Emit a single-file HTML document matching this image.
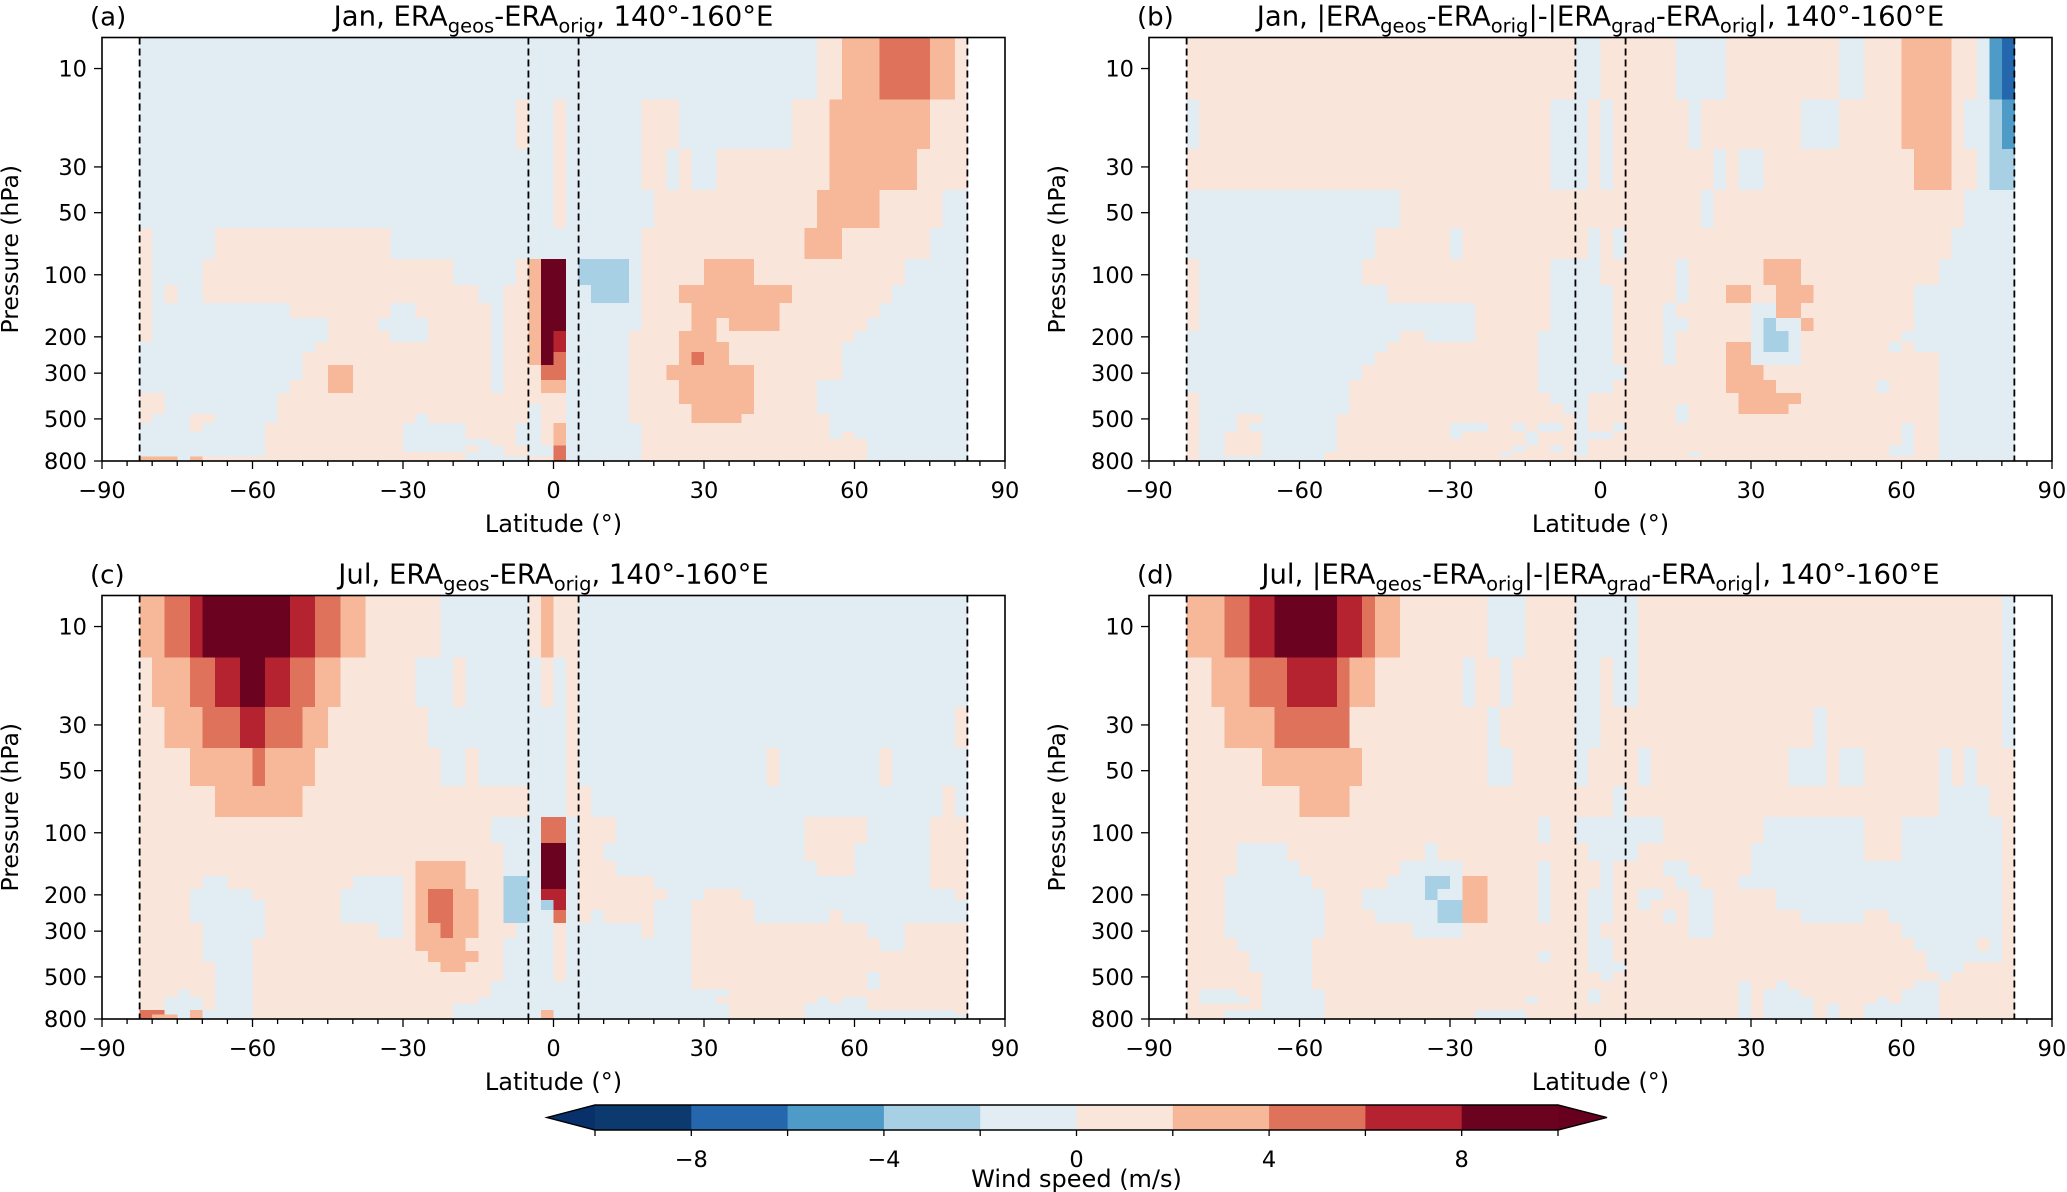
<!DOCTYPE html>
<html><head><meta charset="utf-8"><title>Wind speed differences</title>
<style>
html,body{margin:0;padding:0;background:#fff;}
svg{display:block;font-family:"DejaVu Sans","Liberation Sans",sans-serif;}
</style></head>
<body>
<svg id="fig" xmlns="http://www.w3.org/2000/svg" width="2067" height="1192" viewBox="0 0 2067 1192"></svg>
<script>
// ---------- data ----------
const levels = [10,20,30,50,70,100,125,150,175,200,225,250,300,350,400,450,500,550,600,650,700,750,775,800];
const latStart = -82.5, latStep = 2.5, nCols = 66;
const yTicks = [10,30,50,100,200,300,500,800];
const xTicks = [-90,-60,-30,0,30,60,90];
const dashLats = [-82.5,-5,5,82.5];
const cbTicks = [-8,-4,0,4,8];
const cbBounds = [-10,-8,-6,-4,-2,0,2,4,6,8,10];
const cbColors = ["#0c3a6e","#2467ad","#4f9bc8","#a8d0e5","#e1ecf3","#fae5db","#f6b899","#de725b","#b52330","#6a0220"];
// values per row (run-length "value*count"), top (10 hPa) to bottom (800 hPa)
const panelA = [
"-1*54,1*2,3*3,5*4,3*2,1*1",
"-1*30,1*1,-1*2,1*1,-1*6,1*3,-1*9,1*3,3*8,1*3",
"-1*33,1*1,-1*6,1*2,-1*1,1*1,-1*2,1*9,3*7,1*4",
"-1*33,1*1,-1*7,1*13,3*5,1*5,-1*2",
"1*1,-1*5,1*14,-1*20,1*13,3*3,1*7,-1*3",
"1*1,-1*4,1*20,-1*5,1*1,3*1,9*2,-1*1,-3*4,-1*1,1*5,3*4,1*12,-1*5",
"1*1,-1*1,1*1,-1*2,1*22,-1*2,1*2,3*1,9*2,-1*1,-1*1,-3*3,-1*1,1*3,3*9,1*8,-1*6",
"1*1,-1*11,1*8,-1*2,1*6,-1*1,1*2,3*1,9*2,-1*6,1*4,3*7,1*8,-1*7",
"1*1,-1*14,1*4,-1*4,1*5,-1*1,1*2,3*1,9*2,-1*6,1*4,3*2,1*1,3*4,1*7,-1*8",
"1*1,-1*14,1*5,-1*3,1*5,-1*1,1*2,3*1,9*1,7*1,-1*5,1*4,3*3,1*11,-1*9",
"-1*14,1*14,-1*1,1*2,3*1,9*1,7*1,-1*5,1*4,3*4,1*9,-1*10",
"-1*13,1*15,-1*1,1*2,3*1,9*1,5*1,-1*5,1*4,3*1,5*1,3*2,1*9,-1*10",
"-1*13,1*2,3*2,1*11,-1*1,1*2,1*1,5*2,-1*5,1*3,3*7,1*7,-1*10",
"-1*12,1*3,3*2,1*11,-1*1,1*3,3*2,-1*5,1*4,3*6,1*5,-1*12",
"1*2,-1*9,1*23,-1*5,1*4,3*6,1*5,-1*12",
"1*2,-1*9,1*20,-1*1,1*2,-1*5,1*5,3*5,1*5,-1*12",
"1*1,-1*3,1*2,-1*5,1*11,-1*1,1*8,-1*1,1*2,-1*5,1*5,3*4,1*7,-1*11",
"-1*4,1*1,-1*5,1*11,-1*5,1*4,-1*2,1*1,3*1,-1*6,1*15,-1*11",
"-1*10,1*11,-1*5,1*4,-1*2,1*1,3*1,-1*6,1*15,-1*1,1*1,-1*9",
"-1*10,1*11,-1*7,1*2,-1*2,1*1,3*1,-1*6,1*18,-1*8",
"-1*10,1*11,-1*5,1*1,-1*2,1*2,-1*2,5*1,-1*6,1*18,-1*8",
"-1*10,1*16,-1*3,1*2,-1*2,5*1,-1*6,1*18,-1*8",
"3*3,-1*1,3*1,1*21,-1*5,1*2,5*1,-1*6,1*18,-1*8",
"3*3,-1*1,3*1,1*21,-1*5,1*2,5*1,-1*6,1*18,-1*8"
];
const panelB = [
"1*31,-1*2,1*6,-1*4,1*9,-1*2,1*3,3*4,1*2,-1*1,-5*1,-7*1",
"-1*1,1*28,-1*3,1*1,-1*1,1*6,-1*1,1*8,-1*3,1*5,3*4,1*1,-1*2,-3*1,-5*1",
"1*29,-1*3,1*1,-1*1,1*8,-1*1,1*1,-1*2,1*12,3*3,1*2,-1*1,-3*2",
"-1*17,1*24,-1*1,1*20,-1*4",
"-1*15,1*6,-1*1,1*10,-1*1,1*1,-1*1,1*26,-1*5",
"1*1,-1*13,1*15,-1*4,1*6,-1*1,1*6,3*3,1*11,-1*6",
"1*1,-1*15,1*13,-1*5,1*5,-1*1,1*3,3*2,1*2,3*3,1*8,-1*8",
"1*1,-1*22,1*6,-1*5,1*4,-1*1,1*6,-1*2,3*2,1*9,-1*8",
"1*1,-1*22,1*6,-1*5,1*4,-1*2,1*5,-1*1,-3*1,-1*2,3*1,1*8,-1*8",
"-1*17,1*2,-1*4,1*5,-1*6,1*4,-1*1,1*6,-1*1,-3*2,-1*1,1*8,-1*9",
"-1*16,1*12,-1*6,1*4,-1*1,1*4,3*2,-1*1,-3*2,-1*1,1*7,-1*1,1*1,-1*8",
"-1*15,1*13,-1*6,1*4,-1*1,1*4,3*2,-1*4,1*11,-1*6",
"-1*14,1*14,-1*7,1*8,3*3,1*14,-1*6",
"-1*13,1*15,-1*6,1*9,3*4,1*8,-1*1,1*4,-1*6",
"1*1,-1*12,1*16,-1*3,1*12,3*5,1*11,-1*6",
"1*1,-1*12,1*17,-1*2,1*7,-1*1,1*4,3*4,1*12,-1*6",
"1*1,-1*3,1*2,-1*6,1*19,-1*1,1*7,-1*1,1*20,-1*6",
"1*1,-1*3,1*1,-1*7,1*9,-1*3,1*2,-1*1,1*1,-1*2,1*1,-1*1,1*2,-1*1,1*22,-1*1,1*2,-1*6",
"1*1,-1*2,1*3,-1*6,1*9,-1*1,1*5,-1*1,1*3,-1*3,1*23,-1*1,1*2,-1*6",
"1*1,-1*2,1*3,-1*6,1*15,-1*1,1*3,-1*1,1*25,-1*1,1*2,-1*6",
"1*1,-1*2,1*3,-1*6,1*14,-1*1,1*2,-1*1,1*1,-1*1,1*24,-1*2,1*2,-1*6",
"1*1,-1*2,1*3,-1*5,1*14,-1*1,1*5,-1*1,1*8,-1*1,1*15,-1*2,1*2,-1*6",
"1*1,-1*10,1*49,-1*6",
"1*1,-1*10,1*49,-1*6"
];
const panelC = [
"3*2,5*2,7*1,9*7,7*2,5*2,3*2,1*6,-1*7,1*1,3*1,1*2,-1*31",
"1*1,3*3,5*2,7*2,9*2,7*2,5*2,3*2,1*6,-1*3,1*1,-1*6,1*1,-1*1,1*1,-1*31",
"1*2,3*3,5*3,7*2,5*3,3*2,1*8,-1*11,1*1,-1*30,1*1",
"1*4,3*5,5*1,3*4,1*10,-1*2,1*1,-1*7,1*1,-1*15,1*1,-1*8,1*1,-1*6",
"1*6,3*7,1*18,-1*3,1*2,-1*28,1*1,-1*1",
"1*28,-1*4,5*2,-1*1,1*3,-1*15,1*5,-1*5,1*3",
"1*29,-1*3,9*2,-1*1,1*2,-1*16,1*4,-1*6,1*3",
"1*22,3*4,1*3,-1*3,9*2,-1*1,1*3,-1*16,1*3,-1*6,1*3",
"1*5,-1*2,1*10,-1*4,1*1,3*4,1*3,-3*2,-1*1,9*2,-1*1,1*6,-1*22,1*3",
"1*4,-1*5,1*7,-1*5,1*1,3*1,5*2,3*2,1*2,-3*2,-1*1,7*2,-1*1,1*7,-1*3,1*3,-1*17,1*1",
"1*4,-1*6,1*6,-1*5,1*1,3*1,5*2,3*2,1*2,-3*2,-1*1,-3*1,7*1,-1*1,1*6,-1*3,1*5,-1*17",
"1*4,-1*6,1*6,-1*5,1*1,3*1,5*2,3*2,1*2,-3*2,-1*2,5*1,-1*1,1*1,-1*1,1*4,-1*3,1*5,-1*6,1*1,-1*10",
"1*5,-1*5,1*9,-1*2,1*1,3*2,5*1,3*2,1*3,-1*3,1*1,-1*6,1*1,-1*3,1*14,-1*3,1*5",
"1*5,-1*4,1*13,3*4,1*3,-1*4,1*1,-1*10,1*15,-1*2,1*5",
"1*5,-1*4,1*14,3*4,1*2,-1*4,1*1,-1*10,1*22",
"1*6,-1*3,1*15,3*2,1*3,-1*4,1*1,-1*10,1*22",
"1*6,-1*3,1*20,-1*4,1*1,-1*10,1*14,-1*1,1*7",
"1*6,-1*3,1*19,-1*16,1*14,-1*1,1*7",
"1*3,-1*1,1*2,-1*3,1*19,-1*19,1*19",
"1*2,-1*3,1*1,-1*3,1*18,-1*19,1*8,-1*1,1*1,-1*2,1*8",
"1*2,-1*3,1*1,-1*3,1*16,-1*22,1*6,-1*5,1*8",
"5*2,-1*2,3*1,-1*4,1*16,-1*7,3*1,-1*14,1*6,-1*12,1*1",
"5*1,3*2,-1*1,3*1,-1*4,1*16,-1*7,3*1,-1*14,1*6,-1*13",
"5*1,3*2,-1*1,3*1,-1*4,1*16,-1*7,3*1,-1*14,1*6,-1*13"
];
const panelD = [
"3*3,5*2,7*2,9*5,7*2,5*1,3*2,1*7,-1*3,1*4,-1*5,1*29,-1*1",
"1*2,3*3,5*3,7*4,5*1,3*2,1*7,-1*1,1*2,-1*1,1*5,-1*2,1*1,-1*2,1*29,-1*1",
"1*3,3*4,5*6,1*11,-1*1,1*6,-1*2,1*17,-1*1,1*14,-1*1",
"1*6,3*8,1*10,-1*2,1*5,-1*1,1*4,-1*1,1*11,-1*3,1*1,-1*2,1*6,-1*1,1*1,-1*1,1*3",
"1*9,3*4,1*21,-1*1,1*25,-1*4,1*2",
"1*28,-1*1,1*2,-1*7,1*8,-1*8,1*3,-1*8,1*1",
"1*4,-1*4,1*11,-1*1,1*12,-1*4,1*9,-1*9,1*3,-1*8,1*1",
"1*4,-1*5,1*8,-1*5,1*6,-1*1,1*4,-1*1,1*4,-1*2,1*5,-1*20,1*1",
"1*3,-1*7,1*6,-1*3,-3*2,-1*1,3*2,1*4,-1*1,1*4,-1*1,1*5,-1*2,1*3,-1*21,1*1",
"1*3,-1*8,1*3,-1*5,-3*1,-1*2,3*2,1*4,-1*1,1*3,-1*2,1*2,-1*2,1*2,-1*2,1*5,-1*18,1*1",
"1*3,-1*8,1*3,-1*6,-3*2,3*2,1*4,-1*1,1*3,-1*2,1*2,-1*1,1*3,-1*2,1*5,-1*18,1*1",
"1*3,-1*8,1*4,-1*5,-3*2,3*2,1*4,-1*1,1*3,-1*2,1*4,-1*1,1*1,-1*2,1*7,-1*5,1*2,-1*9,1*1",
"1*3,-1*8,1*7,-1*4,1*10,-1*1,1*7,-1*2,1*15,-1*8,1*1",
"1*4,-1*6,1*22,-1*2,1*24,-1*5,1*1,-1*1,1*1",
"1*5,-1*5,1*18,-1*1,1*3,-1*2,1*25,-1*6,1*1",
"1*5,-1*5,1*22,-1*3,1*24,-1*3,1*4",
"1*6,-1*4,1*23,-1*1,1*26,-1*1,1*5",
"1*6,-1*4,1*34,-1*1,1*2,-1*1,1*10,-1*2,1*6",
"1*1,-1*3,1*2,-1*5,1*21,-1*1,1*11,-1*1,1*1,-1*3,1*8,-1*3,1*6",
"1*1,-1*4,1*1,-1*5,1*16,-1*1,1*4,-1*1,1*11,-1*1,1*1,-1*4,1*5,-1*1,1*1,-1*3,1*6",
"1*6,-1*5,1*33,-1*1,1*1,-1*4,1*1,-1*1,1*2,-1*6,1*6",
"1*3,-1*8,1*12,-1*4,1*17,-1*1,1*1,-1*4,1*1,-1*1,1*2,-1*6,1*6",
"1*3,-1*8,1*12,-1*4,1*17,-1*1,1*1,-1*4,1*1,-1*1,1*2,-1*6,1*6",
"1*3,-1*8,1*12,-1*4,1*17,-1*1,1*1,-1*4,1*1,-1*1,1*2,-1*6,1*6"
];

// ---------- drawing ----------
const NS = "http://www.w3.org/2000/svg";
const svg = document.getElementById("fig");
function mk(tag, attrs, parent) {
  const e = document.createElementNS(NS, tag);
  for (const k in attrs) e.setAttribute(k, attrs[k]);
  (parent || svg).appendChild(e);
  return e;
}
function decode(row) {
  const out = [];
  row.split(",").forEach(seg => {
    const p = seg.split("*");
    const v = parseFloat(p[0]), n = parseInt(p[1]);
    for (let i = 0; i < n; i++) out.push(v);
  });
  return out;
}
function colorFor(v) {
  for (let i = 0; i < cbColors.length; i++) if (v < cbBounds[i + 1]) return cbColors[i];
  return cbColors[cbColors.length - 1];
}
const pTop = Math.sqrt(5 * 10), pBot = 800;

const panels = [
  {id:"a", data:panelA, x0:102, y0:37.5, month:"Jan", kind:1},
  {id:"b", data:panelB, x0:1149, y0:37.5, month:"Jan", kind:2},
  {id:"c", data:panelC, x0:102, y0:595.5, month:"Jul", kind:1},
  {id:"d", data:panelD, x0:1149, y0:595.5, month:"Jul", kind:2}
];
const W = 903, H = 423.5;

panels.forEach(P => {
  const g = mk("g", {});
  
  
  const xs = lat => P.x0 + (lat + 90) / 180 * W;
  const ys = p => P.y0 + (Math.log10(p) - Math.log10(pTop)) / (Math.log10(pBot) - Math.log10(pTop)) * H;
  const clipId = "clip" + P.id;
  const cp = mk("clipPath", {id: clipId}, g);
  mk("rect", {x: P.x0, y: P.y0, width: W, height: H}, cp);
  const cells = mk("g", {"clip-path": "url(#" + clipId + ")", "shape-rendering": "crispEdges"}, g);
  
  
  P.data.forEach((row, r) => {
    const vals = decode(row);
    const pt = r === 0 ? pTop : Math.sqrt(levels[r - 1] * levels[r]);
    const pb = r === levels.length - 1 ? pBot : Math.sqrt(levels[r] * levels[r + 1]);
    const yt = ys(pt), yb = ys(pb);
    vals.forEach((v, c) => {
      const lat0 = latStart + c * latStep;
      const xl = xs(lat0), xr = xs(lat0 + latStep);
      const rc = mk("rect", {x: xl.toFixed(2), y: yt.toFixed(2), width: (xr - xl + 0.6).toFixed(2), height: (yb - yt + 0.6).toFixed(2), fill: colorFor(v)}, cells);
      
      
    });
  });
  dashLats.forEach(l => {
    const ln = mk("line", {x1: xs(l), x2: xs(l), y1: P.y0, y2: P.y0 + H, stroke: "#000", "stroke-width": 1.8, "stroke-dasharray": "7,4"}, g);
    
    
  });
  const fr = mk("rect", {x: P.x0, y: P.y0, width: W, height: H, fill: "none", stroke: "#000", "stroke-width": 1.6}, g);
  
  
  for (let l = -90; l <= 90; l += 5) {
    const major = l % 30 === 0;
    mk("line", {x1: xs(l), x2: xs(l), y1: P.y0 + H, y2: P.y0 + H + (major ? 8 : 5), stroke: "#000", "stroke-width": 1.3}, g);
  }
  xTicks.forEach(l => {
    const t = mk("text", {x: xs(l), y: P.y0 + H + 37, "text-anchor": "middle", "font-size": 22.5}, g);
    t.textContent = l < 0 ? "\u2212" + Math.abs(l) : String(l);
    
    
  });
  yTicks.forEach(p => {
    mk("line", {x1: P.x0 - 8, x2: P.x0, y1: ys(p), y2: ys(p), stroke: "#000", "stroke-width": 1.3}, g);
    const t = mk("text", {x: P.x0 - 15, y: ys(p) + 8, "text-anchor": "end", "font-size": 22.5}, g);
    t.textContent = String(p);
    
    
  });
  const xl = mk("text", {x: P.x0 + W / 2, y: P.y0 + H + 71, "text-anchor": "middle", "font-size": 24}, g);
  xl.textContent = "Latitude (\u00b0)";
  
  
  const yx = P.x0 - 84, yy = P.y0 + H / 2;
  const yl = mk("text", {x: yx, y: yy, "text-anchor": "middle", "font-size": 23.5, transform: "rotate(-90 " + yx + " " + yy + ")"}, g);
  yl.textContent = "Pressure (hPa)";
  
  
  const lt = mk("text", {x: P.x0 - 12, y: P.y0 - 12, "font-size": 26}, g);
  lt.textContent = "(" + P.id + ")";
  
  
  const tt = mk("text", {x: P.x0 + W / 2, y: P.y0 - 12, "text-anchor": "middle", "font-size": 27.5}, g);
  
  
  const parts = P.kind === 1
    ? [[P.month + ", ERA", 0], ["geos", 1], ["-ERA", 0], ["orig", 1], [", 140\u00b0-160\u00b0E", 0]]
    : [[P.month + ", |ERA", 0], ["geos", 1], ["-ERA", 0], ["orig", 1], ["|-|ERA", 0], ["grad", 1], ["-ERA", 0], ["orig", 1], ["|, 140\u00b0-160\u00b0E", 0]];
  let prevSub = 0;
  parts.forEach(pp => {
    const ts = mk("tspan", {}, tt);
    if (pp[1]) { ts.setAttribute("font-size", 19.5); ts.setAttribute("dy", 7); }
    else if (prevSub) { ts.setAttribute("dy", -7); }
    ts.textContent = pp[0];
    prevSub = pp[1];
  });
});

// ---------- colorbar ----------
const cb = mk("g", {});


const cbX0 = 595, cbX1 = 1558, cbY0 = 1105, cbY1 = 1130;
const cx = v => cbX0 + (v + 10) / 20 * (cbX1 - cbX0);
cbColors.forEach((c, i) => {
  const r = mk("rect", {x: cx(cbBounds[i]), y: cbY0, width: cx(cbBounds[i + 1]) - cx(cbBounds[i]) + 0.5, height: cbY1 - cbY0, fill: c}, cb);
  
  
});
mk("polygon", {points: cbX0 + "," + cbY0 + " 547," + ((cbY0 + cbY1) / 2) + " " + cbX0 + "," + cbY1, fill: "#08306b"}, cb);
mk("polygon", {points: cbX1 + "," + cbY0 + " 1607," + ((cbY0 + cbY1) / 2) + " " + cbX1 + "," + cbY1, fill: "#67001f"}, cb);
mk("polygon", {points: cbX0 + "," + cbY0 + " " + cbX1 + "," + cbY0 + " 1607," + ((cbY0 + cbY1) / 2) + " " + cbX1 + "," + cbY1 + " " + cbX0 + "," + cbY1 + " 547," + ((cbY0 + cbY1) / 2), fill: "none", stroke: "#000", "stroke-width": 1.4}, cb);
cbBounds.forEach(b => {
  mk("line", {x1: cx(b), x2: cx(b), y1: cbY1, y2: cbY1 + 6, stroke: "#000", "stroke-width": 1.3}, cb);
});
cbTicks.forEach(v => {
  const t = mk("text", {x: cx(v), y: 1167, "text-anchor": "middle", "font-size": 22.5}, cb);
  t.textContent = v < 0 ? "\u2212" + Math.abs(v) : String(v);
  
  
});
const cbl = mk("text", {x: (cbX0 + cbX1) / 2, y: 1187, "text-anchor": "middle", "font-size": 24}, cb);
cbl.textContent = "Wind speed (m/s)";


</script>
</body></html>
